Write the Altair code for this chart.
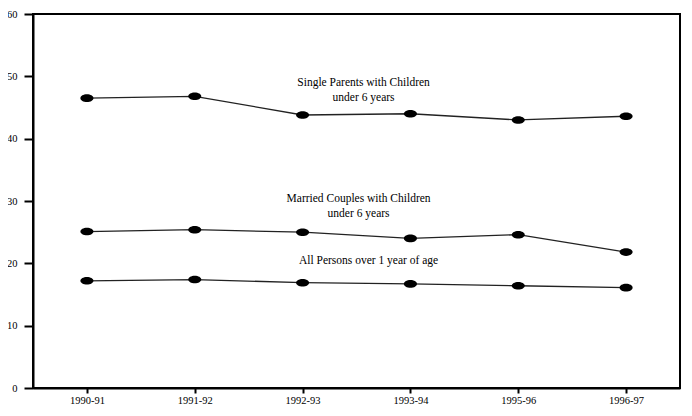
import altair as alt
import pandas as pd

years = ["1990-91", "1991-92", "1992-93", "1993-94", "1995-96", "1996-97"]
single_parents = [46.5, 46.8, 43.8, 44.0, 43.0, 43.6]
married_couples = [25.1, 25.4, 25.0, 24.0, 24.6, 21.8]
all_persons = [17.2, 17.4, 16.9, 16.7, 16.4, 16.1]

series_names = ["Single Parents", "Married Couples", "All Persons"]
series_values = [single_parents, married_couples, all_persons]

label_texts = [
    ["Single Parents with Children", "under 6 years"],
    ["Married Couples with Children", "under 6 years"],
    ["All Persons over 1 year of age"],
]
label_years = ["1992-93", "1992-93", "1992-93"]
label_y = [48.9, 30.3, 20.3]
label_dx = [5, 0, 10]

rows = []
for name, vals in zip(series_names, series_values):
    for yr, v in zip(years, vals):
        rows.append({"year": yr, "value": v, "series": name})
df = pd.DataFrame(rows)

FONT = "Liberation Serif"
ellipse = "M-1,0A1,0.58,0,1,1,1,0A1,0.58,0,1,1,-1,0Z"

x_enc = alt.X(
    "year:O",
    sort=years,
    scale=alt.Scale(domain=years, paddingOuter=0.5),
    axis=alt.Axis(
        title=None,
        labelAngle=0,
        labelFont=FONT,
        labelFontSize=10.5,
        labelColor="black",
        labelPadding=2,
        tickSize=5,
        tickWidth=2,
        tickColor="black",
        domainColor="black",
        domainWidth=2,
        grid=False,
    ),
)
y_enc = alt.Y(
    "value:Q",
    scale=alt.Scale(domain=[0, 60], nice=False),
    axis=alt.Axis(
        title=None,
        values=list(range(0, 61, 5)),
        labelExpr="datum.value % 10 === 0 ? datum.label : ''",
        labelFont=FONT,
        labelFontSize=10.5,
        labelColor="black",
        labelPadding=7,
        tickSize={"condition": {"test": "datum.value % 10 === 0", "value": 9}, "value": 7},
        tickWidth=2,
        tickColor="black",
        domainColor="black",
        domainWidth=2,
        grid=False,
    ),
)

base = alt.Chart(df).encode(x=x_enc, y=y_enc, detail="series:N")

lines = base.mark_line(color="#222222", strokeWidth=1.3)
points = base.mark_point(
    shape=ellipse, size=170, filled=True, color="black", opacity=1
)

ann = []
for txt, yr, yv, dx in zip(label_texts, label_years, label_y, label_dx):
    ann.append(
        alt.Chart(pd.DataFrame({"year": [yr], "value": [yv], "t": [txt]}))
        .mark_text(
            font=FONT,
            fontSize=11.5,
            color="black",
            align="center",
            baseline="middle",
            lineHeight=14.5,
            dx=56 + dx,
        )
        .encode(
            x=alt.X("year:O", sort=years, scale=alt.Scale(domain=years, paddingOuter=0.5)),
            y=alt.Y("value:Q", scale=alt.Scale(domain=[0, 60], nice=False)),
            text="t",
        )
    )

chart = (
    alt.layer(lines, points, *ann)
    .properties(
        width=647,
        height=374,
        autosize=alt.AutoSizeParams(type="none"),
        padding={"left": 25, "top": 6, "right": 4, "bottom": 20},
        background="white",
    )
    .configure_view(stroke="black", strokeWidth=2)
)

chart.save("out.html", embed_options={"renderer": "svg", "actions": False})
